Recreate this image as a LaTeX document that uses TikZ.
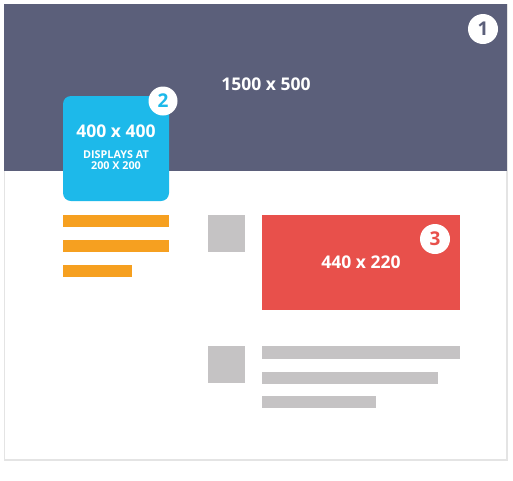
\documentclass[tikz,border=0pt]{standalone}
\usepackage{fontspec}
\setmainfont{Open Sans}
\definecolor{band}{HTML}{5B5F7A}
\definecolor{sky}{HTML}{1DB9EA}
\definecolor{coral}{HTML}{E8504B}
\definecolor{amber}{HTML}{F6A020}
\definecolor{greyblk}{HTML}{C5C3C4}
\definecolor{frame}{HTML}{E4E4E4}
\tikzset{
  lbl/.style={text=white, font=\bfseries\fontsize{17.5}{17.5}\selectfont, inner sep=0pt},
  badge/.style={circle, fill=white, minimum size=30pt, inner sep=0pt, font=\bfseries\fontsize{19}{19}\selectfont},
}
\begin{document}
\begin{tikzpicture}[x=1pt,y=-1pt]
\useasboundingbox (0,0) rectangle (513,480);
% outer frame
\draw[frame, line width=1.2pt, fill=white] (4.5,4.5) rectangle (507,460);
% top band
\fill[band] (4,4) rectangle (507,171);
\node[lbl] (hdr) at (266,84) {1500 x 500};
\node[badge, text=band] (b1) at (483,29) {1};
% profile box
\fill[sky, rounded corners=8pt] (63,96) rectangle (169,201);
\node[lbl] (pp) at (116,131) {400 x 400};
\node[lbl, font=\bfseries\fontsize{10.8}{11.5}\selectfont, align=center] (pd) at (116,160) {DISPLAYS AT\\200 X 200};
\node[badge, text=sky, minimum size=29pt] (b2) at (163,101) {2};
% orange bars
\fill[amber] (63,215) rectangle (169,227);
\fill[amber] (63,240) rectangle (169,252);
\fill[amber] (63,265) rectangle (132,277);
% post 1
\fill[greyblk] (208,215) rectangle (245,252);
\fill[coral] (262,215) rectangle (460,310);
\node[lbl] (img) at (361,262) {440 x 220};
\node[badge, text=coral] (b3) at (435,239) {3};
% post 2
\fill[greyblk] (208,346) rectangle (245,383);
\fill[greyblk] (262,346) rectangle (460,359);
\fill[greyblk] (262,372) rectangle (438,384);
\fill[greyblk] (262,396) rectangle (376,408);
\end{tikzpicture}
\end{document}
